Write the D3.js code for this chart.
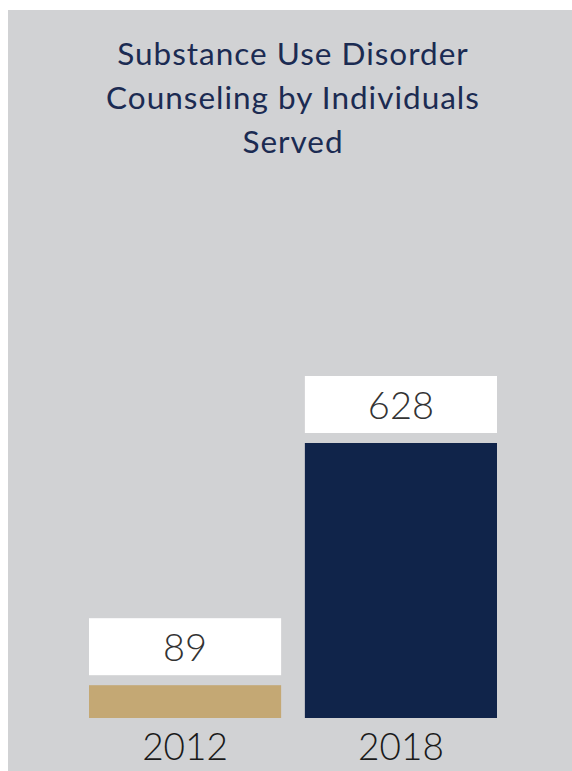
<!DOCTYPE html>
<html><head><meta charset="utf-8">
<script src="https://cdn.jsdelivr.net/npm/d3@7"></script>
<style>html,body{margin:0;padding:0;background:#fff;}svg{display:block;}</style>
</head><body>
<svg id="chart" width="572" height="771"></svg>
<script>
const titleLines = ["Substance Use Disorder", "Counseling by Individuals", "Served"];
const years = ["2012", "2018"];
const values = [89, 628];
const barColors = ["#c4a874", "#10244a"];

const svg = d3.select("#chart");
svg.append("rect").attr("x", 8).attr("y", 10).attr("width", 564).attr("height", 761).attr("fill", "#d1d2d4");

const title = svg.append("text").attr("text-anchor", "middle")
  .attr("font-family", "Lato, 'Open Sans', sans-serif").attr("font-weight", 400)
  .attr("font-size", 31.5).attr("fill", "#1b2b52").attr("letter-spacing", 1);
titleLines.forEach((t, i) => {
  title.append("tspan").attr("x", 293).attr("y", 65 + i * 44).text(t);
});

const baseline = 718;
const x = d3.scaleBand().domain(years).range([89, 497]).paddingInner(0.11);
const y = d3.scaleLinear().domain([16, 628]).range([baseline, 443]);

const g = svg.append("g");
const data = years.map((yr, i) => ({ yr, v: values[i], c: barColors[i] }));

g.selectAll("rect.bar").data(data).join("rect").attr("class", "bar")
  .attr("x", d => x(d.yr)).attr("width", x.bandwidth())
  .attr("y", d => y(d.v)).attr("height", d => baseline - y(d.v))
  .attr("fill", d => d.c);

const boxH = 57, gap = 10;
g.selectAll("rect.lbl").data(data).join("rect").attr("class", "lbl")
  .attr("x", d => x(d.yr)).attr("width", x.bandwidth())
  .attr("y", d => y(d.v) - gap - boxH).attr("height", boxH)
  .attr("fill", "#ffffff");

g.selectAll("text.val").data(data).join("text").attr("class", "val")
  .attr("x", d => x(d.yr) + x.bandwidth() / 2)
  .attr("y", d => y(d.v) - gap - boxH / 2 + 14)
  .attr("text-anchor", "middle")
  .attr("font-family", "Lato, sans-serif").attr("font-weight", 300)
  .attr("font-size", 38).attr("fill", "#333333")
  .text(d => d.v);

const xAxis = d3.axisBottom(x).tickSize(0).tickPadding(0);
const ax = svg.append("g").attr("transform", `translate(0,${baseline})`).call(xAxis);
ax.select(".domain").remove();
ax.selectAll("text").attr("dy", null).attr("y", 42)
  .attr("font-family", "Lato, sans-serif").attr("font-weight", 300)
  .attr("font-size", 37).attr("fill", "#1a1a1a");
</script>
</body></html>
